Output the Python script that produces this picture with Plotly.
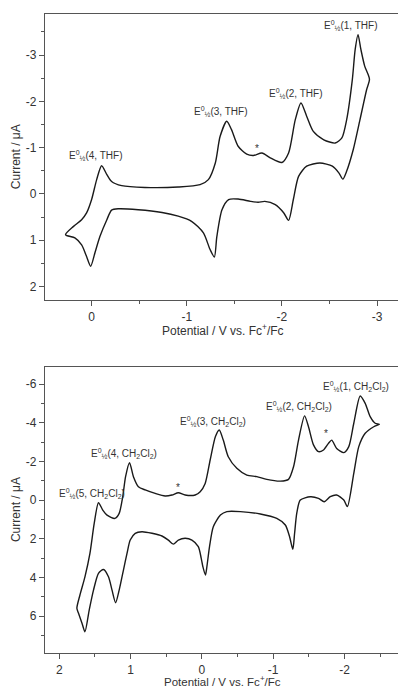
import plotly.graph_objects as go
from plotly.subplots import make_subplots

# ---------------- data: THF (top panel) ----------------
thf_potential = [0.274, 0.19, 0.105, 0.053, 0.0, -0.053, -0.105, -0.16, -0.21, -0.316, -0.56, -0.91,
                 -1.14, -1.227, -1.30, -1.35, -1.42, -1.47, -1.54, -1.63, -1.70, -1.79, -1.877, -2.0,
                 -2.07, -2.14, -2.20, -2.26, -2.33, -2.44, -2.56, -2.63, -2.68, -2.74, -2.77, -2.80,
                 -2.83, -2.87, -2.92,
                 -2.89, -2.82, -2.75, -2.68, -2.64, -2.60, -2.53, -2.40, -2.26, -2.175, -2.12, -2.07,
                 -2.02, -1.93, -1.82, -1.75, -1.67, -1.54, -1.44, -1.37, -1.316, -1.29, -1.245, -1.175,
                 -1.05, -0.91, -0.74, -0.49, -0.28, -0.21, -0.16, -0.087, -0.035, 0.01, 0.053, 0.105,
                 0.176, 0.274]
thf_current = [0.88, 0.70, 0.555, 0.41, 0.12, -0.31, -0.61, -0.42, -0.27, -0.18, -0.14, -0.15,
               -0.20, -0.31, -0.67, -1.24, -1.57, -1.39, -1.03, -0.86, -0.83, -0.885, -0.78, -0.68,
               -0.885, -1.60, -1.965, -1.68, -1.35, -1.17, -1.10, -1.21, -1.60, -2.47, -3.12, -3.44,
               -3.12, -2.76, -2.48,
               -2.25, -1.60, -0.96, -0.49, -0.32, -0.45, -0.60, -0.67, -0.60, -0.38, 0.12, 0.57,
               0.41, 0.23, 0.16, 0.18, 0.16, 0.11, 0.12, 0.34, 0.92, 1.36, 1.20, 0.84,
               0.59, 0.48, 0.40, 0.34, 0.32, 0.35, 0.555, 0.92, 1.27, 1.56, 1.35, 1.10,
               0.95, 0.88]

# ---------------- data: CH2Cl2 (bottom panel) ----------------
dcm_potential = [1.753, 1.71, 1.64, 1.57, 1.51, 1.45, 1.39, 1.33, 1.22, 1.16, 1.11, 1.07, 1.015,
                 0.96, 0.89, 0.795, 0.655, 0.515, 0.42, 0.33, 0.235, 0.094, 0.024, -0.046, -0.116,
                 -0.19, -0.243, -0.30, -0.37, -0.49, -0.63, -0.77, -0.91, -1.10, -1.215, -1.285,
                 -1.355, -1.44, -1.495, -1.565, -1.635, -1.705, -1.775, -1.82, -1.89, -1.99, -2.06,
                 -2.13, -2.22, -2.29, -2.36, -2.43, -2.49,
                 -2.41, -2.29, -2.20, -2.13, -2.04, -1.99, -1.89, -1.80, -1.715, -1.635, -1.52,
                 -1.38, -1.33, -1.30, -1.275, -1.23, -1.17, -1.05, -0.82, -0.54, -0.35, -0.26, -0.16,
                 -0.107, -0.07, -0.05, -0.014, 0.01, 0.05, 0.14, 0.235, 0.33, 0.40, 0.47, 0.56, 0.70,
                 0.84, 0.935, 1.005, 1.05, 1.10, 1.16, 1.21, 1.26, 1.31, 1.38, 1.45, 1.52, 1.58,
                 1.64, 1.68, 1.73, 1.753]
dcm_current = [5.60, 4.91, 3.97, 2.76, 1.21, 0.14, 0.52, 0.78, 0.95, 0.69, -0.17, -1.21, -1.93,
               -1.21, -0.69, -0.52, -0.34, -0.21, -0.26, -0.38, -0.26, -0.26, -0.43, -0.86, -2.07,
               -3.28, -3.62, -3.10, -2.24, -1.64, -1.29, -1.21, -1.07, -0.98, -1.07, -1.72,
               -3.10, -4.35, -3.79, -2.85, -2.50, -2.59, -2.93, -3.10, -2.67, -2.45, -2.76,
               -3.97, -5.38, -5.0, -4.31, -3.97, -3.92,
               -3.79, -3.45, -2.76, -1.38, 0.34, 0.0, -0.26, -0.17, 0.09, -0.09, -0.17,
               0.0, 0.69, 1.72, 2.55, 1.90, 1.29, 0.95, 0.72, 0.60, 0.60, 0.78, 1.38,
               2.41, 3.45, 3.88, 3.45, 3.0, 2.41, 2.07, 1.98, 2.07, 2.28, 2.07, 1.86, 1.72,
               1.64, 1.72, 2.07, 2.76, 3.62, 4.66, 5.31, 4.66, 3.97, 3.59, 3.79, 4.66, 5.69,
               6.81, 6.38, 5.86, 5.60]

# ---------------- tick labels ----------------
thf_xticks = [0, -1, -2, -3]
thf_yticks = [-3, -2, -1, 0, 1, 2]
dcm_xticks = [2, 1, 0, -1, -2]
dcm_yticks = [-6, -4, -2, 0, 2, 4, 6]

# ---------------- labels ----------------
E12 = "E<sup>0</sup><sub>½</sub>"
thf_labels = [E12 + "(4, THF)", E12 + "(3, THF)", E12 + "(2, THF)", E12 + "(1, THF)", "*"]
thf_label_E = [-0.045, -1.35, -2.145, -2.716, -1.743]
thf_label_I = [-0.83, -1.78, -2.16, -3.63, -0.99]

CH = "CH<sub>2</sub>Cl<sub>2</sub>"
dcm_labels = [E12 + "(5, " + CH + ")", E12 + "(4, " + CH + ")", "*", E12 + "(3, " + CH + ")",
              E12 + "(2, " + CH + ")", "*", E12 + "(1, " + CH + ")"]
dcm_label_E = [1.543, 1.093, 0.342, -0.16, -1.367, -1.743, -2.157]
dcm_label_I = [-0.35, -2.41, -0.64, -4.05, -4.83, -3.45, -5.86]

x_title = "Potential / V vs. Fc<sup>+</sup>/Fc"
y_title = "Current / μA"

FONT = "Arial, Liberation Sans, sans-serif"
TXT = "#333333"
AX = "#555555"


def ticktext(vals):
    return [str(v) for v in vals]


fig = make_subplots(rows=2, cols=1, vertical_spacing=0.0)

fig.add_trace(go.Scatter(x=thf_potential, y=thf_current, mode="lines",
                         line=dict(color="#1a1a1a", width=1.4, shape="spline", smoothing=0.7),
                         showlegend=False), row=1, col=1)
fig.add_trace(go.Scatter(x=dcm_potential, y=dcm_current, mode="lines",
                         line=dict(color="#1a1a1a", width=1.4, shape="spline", smoothing=0.7),
                         showlegend=False), row=2, col=1)

axis_common = dict(showline=True, linecolor=AX, linewidth=1.4, ticks="outside", ticklen=5,
                   tickwidth=1.2, tickcolor=AX, showgrid=False, zeroline=False,
                   tickfont=dict(family=FONT, size=12, color=TXT))

top_dom = [0.5524, 1.0]
bot_dom = [0.0, 0.4476]

fig.update_layout(
    xaxis=dict(axis_common, domain=[0, 1], range=[0.49, -3.22], tickmode="array",
               tickvals=thf_xticks, ticktext=ticktext(thf_xticks), mirror=True,
               minor=dict(dtick=0.5, tick0=0, ticks="outside", ticklen=3, tickcolor=AX),
               anchor="y"),
    yaxis=dict(axis_common, domain=top_dom, range=[2.29, -3.886], tickmode="array",
               tickvals=thf_yticks, ticktext=ticktext(thf_yticks),
               minor=dict(dtick=0.5, tick0=0, ticks="outside", ticklen=3, tickcolor=AX),
               anchor="x"),
    xaxis2=dict(axis_common, domain=[0, 1], range=[2.2, -2.75], tickmode="array",
                tickvals=dcm_xticks, ticktext=ticktext(dcm_xticks), mirror=True,
                minor=dict(dtick=0.5, tick0=0, ticks="outside", ticklen=3, tickcolor=AX),
                anchor="y2"),
    yaxis2=dict(axis_common, domain=bot_dom, range=[7.91, -6.88], tickmode="array",
                tickvals=dcm_yticks, ticktext=ticktext(dcm_yticks),
                minor=dict(dtick=1, tick0=0, ticks="outside", ticklen=3, tickcolor=AX),
                anchor="x2"),
    width=398, height=687,
    margin=dict(l=45, r=0, t=14, b=34),
    paper_bgcolor="white", plot_bgcolor="white",
)

annotations = []
for t, e, i in zip(thf_labels, thf_label_E, thf_label_I):
    annotations.append(dict(x=e, y=i, xref="x", yref="y", text=t, showarrow=False,
                            font=dict(family=FONT, size=10, color=TXT)))
for t, e, i in zip(dcm_labels, dcm_label_E, dcm_label_I):
    annotations.append(dict(x=e, y=i, xref="x2", yref="y2", text=t, showarrow=False,
                            font=dict(family=FONT, size=10, color=TXT)))

# axis titles
annotations.append(dict(x=0.504, y=0.506, xref="paper", yref="paper", text=x_title,
                        showarrow=False, font=dict(family=FONT, size=12, color=TXT),
                        xanchor="center", yanchor="middle"))
annotations.append(dict(x=0.504, y=-0.0435, xref="paper", yref="paper", text=x_title,
                        showarrow=False, font=dict(family=FONT, size=11.5, color=TXT),
                        xanchor="center", yanchor="middle"))
annotations.append(dict(x=-0.082, y=0.776, xref="paper", yref="paper", text=y_title,
                        textangle=-90, showarrow=False, font=dict(family=FONT, size=12, color=TXT),
                        xanchor="center", yanchor="middle"))
annotations.append(dict(x=-0.082, y=0.2238, xref="paper", yref="paper", text=y_title,
                        textangle=-90, showarrow=False, font=dict(family=FONT, size=12, color=TXT),
                        xanchor="center", yanchor="middle"))

fig.update_layout(annotations=annotations)

fig.write_html("out.html", config={"displayModeBar": False},
               post_script="document.body.style.margin='0';document.body.style.padding='0';")
